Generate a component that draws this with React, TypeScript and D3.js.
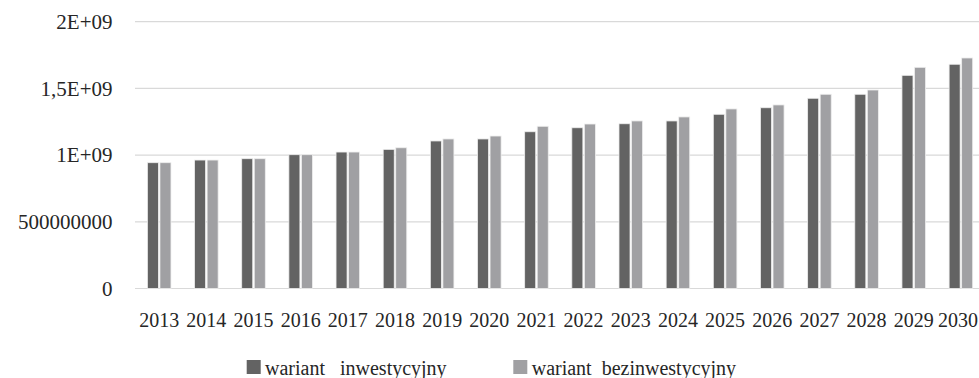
import React from "react";
import * as d3 from "d3";

const years = ["2013","2014","2015","2016","2017","2018","2019","2020","2021","2022","2023","2024","2025","2026","2027","2028","2029","2030"];
const inwestycyjny = [0.943,0.963,0.973,1.003,1.023,1.043,1.106,1.121,1.175,1.205,1.235,1.256,1.306,1.355,1.426,1.456,1.598,1.681].map(v => v * 1e9);
const bezinwestycyjny = [0.943,0.963,0.973,1.003,1.023,1.055,1.121,1.143,1.216,1.233,1.256,1.286,1.346,1.376,1.456,1.488,1.658,1.728].map(v => v * 1e9);
const yTicks = [0, 500000000, 1000000000, 1500000000, 2000000000];
const yTickLabels = ["0", "500000000", "1E+09", "1,5E+09", "2E+09"];
const seriesNames = ["wariant   inwestycyjny", "wariant  bezinwestycyjny"];
const seriesColors = ["#636363", "#a0a0a3"];

const W = 979, H = 378;
const plotLeft = 135.6, step = 47.16;
const plotTop = 21.7, plotBottom = 288.5;

const FONT = "Liberation Serif, DejaVu Serif, serif";

export default function App() {
  const x0 = d3.scaleBand<string>().domain(years)
    .range([plotLeft, plotLeft + step * years.length])
    .paddingInner(0.5).paddingOuter(0.25);
  const keys = ["inw", "bez"];
  const x1 = d3.scaleBand<string>().domain(keys).range([0, x0.bandwidth()]).paddingInner(0.12);
  const y = d3.scaleLinear().domain([0, 2e9]).range([plotBottom, plotTop]);
  const series = [inwestycyjny, bezinwestycyjny];

  const legendItems = [
    { sx: 246.7, tx: 265 },
    { sx: 513.3, tx: 531.7 },
  ];

  return (
    <svg width={W} height={H} style={{ position: "absolute", left: 0, top: 0, background: "#fff" }} fontFamily={FONT}>
      {yTicks.map((t, i) => (
        <line key={"g" + i} x1={135} x2={W} y1={y(t)} y2={y(t)} stroke="#d9d9d9" strokeWidth={1.2} />
      ))}
      {yTicks.map((t, i) => (
        <text key={"yl" + i} x={112.5} y={y(t)} dy="0.35em" textAnchor="end" fontSize={21} fill="#262626" fontFamily={FONT}>
          {yTickLabels[i]}
        </text>
      ))}
      {years.map((yr, i) => (
        <g key={yr} transform={`translate(${x0(yr)},0)`}>
          {series.map((s, k) => (
            <rect key={k} x={x1(keys[k])} y={y(s[i])} width={x1.bandwidth()} height={y(0) - y(s[i])}
              fill={seriesColors[k]} stroke="#eeeeee" strokeWidth={0.8} />
          ))}
        </g>
      ))}
      {years.map((yr) => (
        <text key={"xl" + yr} x={Math.min((x0(yr) as number) + x0.bandwidth() / 2, W - 21)} y={327} textAnchor="middle" fontSize={20} fill="#262626" fontFamily={FONT}>
          {yr}
        </text>
      ))}
      {legendItems.map((it, k) => (
        <g key={"lg" + k}>
          <rect x={it.sx} y={360} width={14} height={14} fill={seriesColors[k]} />
          <text x={it.tx} y={375} fontSize={20} fill="#262626" fontFamily={FONT} style={{ whiteSpace: "pre" }}>{seriesNames[k]}</text>
        </g>
      ))}
    </svg>
  );
}
